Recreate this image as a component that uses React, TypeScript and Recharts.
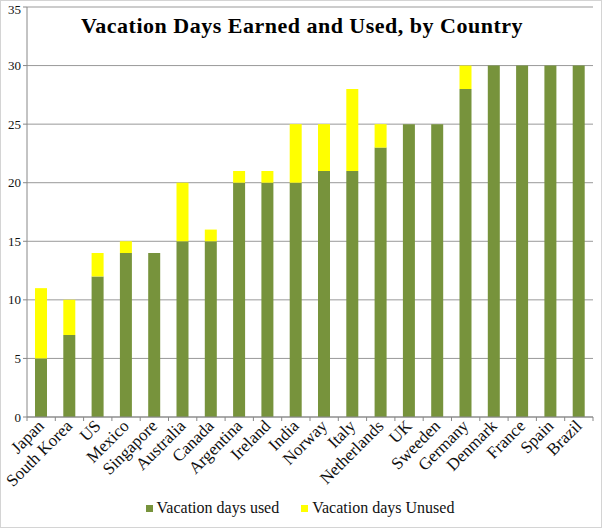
import { Bar, BarChart, CartesianGrid, Legend, XAxis, YAxis } from "recharts";

const countries = [
  "Japan", "South Korea", "US", "Mexico", "Singapore", "Australia", "Canada",
  "Argentina", "Ireland", "India", "Norway", "Italy", "Netherlands", "UK",
  "Sweeden", "Germany", "Denmark", "France", "Spain", "Brazil",
];
const usedDays = [5, 7, 12, 14, 14, 15, 15, 20, 20, 20, 21, 21, 23, 25, 25, 28, 30, 30, 30, 30];
const unusedDays = [6, 3, 2, 1, 0, 5, 1, 1, 1, 5, 4, 7, 2, 0, 0, 2, 0, 0, 0, 0];
const yTicks = [0, 5, 10, 15, 20, 25, 30, 35];

const data = countries.map((country, i) => ({
  country,
  used: usedDays[i],
  unused: unusedDays[i],
}));

const FONT = "'Liberation Serif', 'DejaVu Serif', serif";
const GREEN = "#77933C";
const YELLOW = "#FFFF00";

const legendItems = [
  { key: "used", label: "Vacation days used", color: GREEN },
  { key: "unused", label: "Vacation days Unused", color: YELLOW },
];

function CountryTick(props: any) {
  const { x, y, payload, index } = props;
  const half = payload.offset ?? 0;
  const last = index === countries.length - 1;
  return (
    <g>
      <line x1={x - half} y1={y - 8} x2={x - half} y2={y - 4} stroke="#888" />
      {last && <line x1={x + half} y1={y - 8} x2={x + half} y2={y - 4} stroke="#888" />}
      <text
        x={x + 4}
        y={y + 2}
        textAnchor="end"
        transform={`rotate(-45, ${x + 4}, ${y + 2})`}
        fontFamily={FONT}
        fontSize={17}
        fill="#111"
      >
        {payload.value}
      </text>
    </g>
  );
}

function LegendContent() {
  return (
    <div
      style={{
        display: "flex",
        justifyContent: "center",
        gap: 22,
        fontFamily: FONT,
        fontSize: 16,
        color: "#111",
        paddingLeft: 6,
        paddingTop: 4,
      }}
    >
      {legendItems.map((item) => (
        <div key={item.key} style={{ display: "flex", alignItems: "center" }}>
          <span style={{ width: 7, height: 7, background: item.color, marginRight: 4, display: "inline-block" }} />
          {item.label}
        </div>
      ))}
    </div>
  );
}

export default function App() {
  return (
    <div
      style={{
        position: "absolute",
        left: 0,
        top: 0,
        width: 602,
        height: 528,
        background: "#fff",
        boxSizing: "border-box",
        border: "1px solid #d4d4d4",
      }}
    >
      <div
        style={{
          position: "absolute",
          left: 0,
          top: 12,
          width: 602,
          textAlign: "center",
          fontFamily: FONT,
          fontWeight: "bold",
          fontSize: 22,
          letterSpacing: 0.5,
          color: "#000",
          zIndex: 1,
        }}
      >
        Vacation Days Earned and Used, by Country
      </div>
      <BarChart
        width={600}
        height={526}
        data={data}
        margin={{ top: 6, right: 8, left: 0, bottom: 0 }}
      >
        <CartesianGrid stroke="#999" vertical={false} />
        <XAxis
          dataKey="country"
          interval={0}
          tickLine={false}
          axisLine={{ stroke: "#888" }}
          tick={<CountryTick />}
          height={78}
        />
        <YAxis
          domain={[0, 35]}
          ticks={yTicks}
          width={26}
          tickSize={4}
          axisLine={{ stroke: "#888" }}
          tickLine={{ stroke: "#888" }}
          tick={{ fontFamily: FONT, fontSize: 13, fill: "#111" }}
        />
        <Legend verticalAlign="bottom" height={32} content={<LegendContent />} />
        <Bar dataKey="used" stackId="a" fill={GREEN} barSize={12} isAnimationActive={false} />
        <Bar dataKey="unused" stackId="a" fill={YELLOW} barSize={12} isAnimationActive={false} />
      </BarChart>
    </div>
  );
}
